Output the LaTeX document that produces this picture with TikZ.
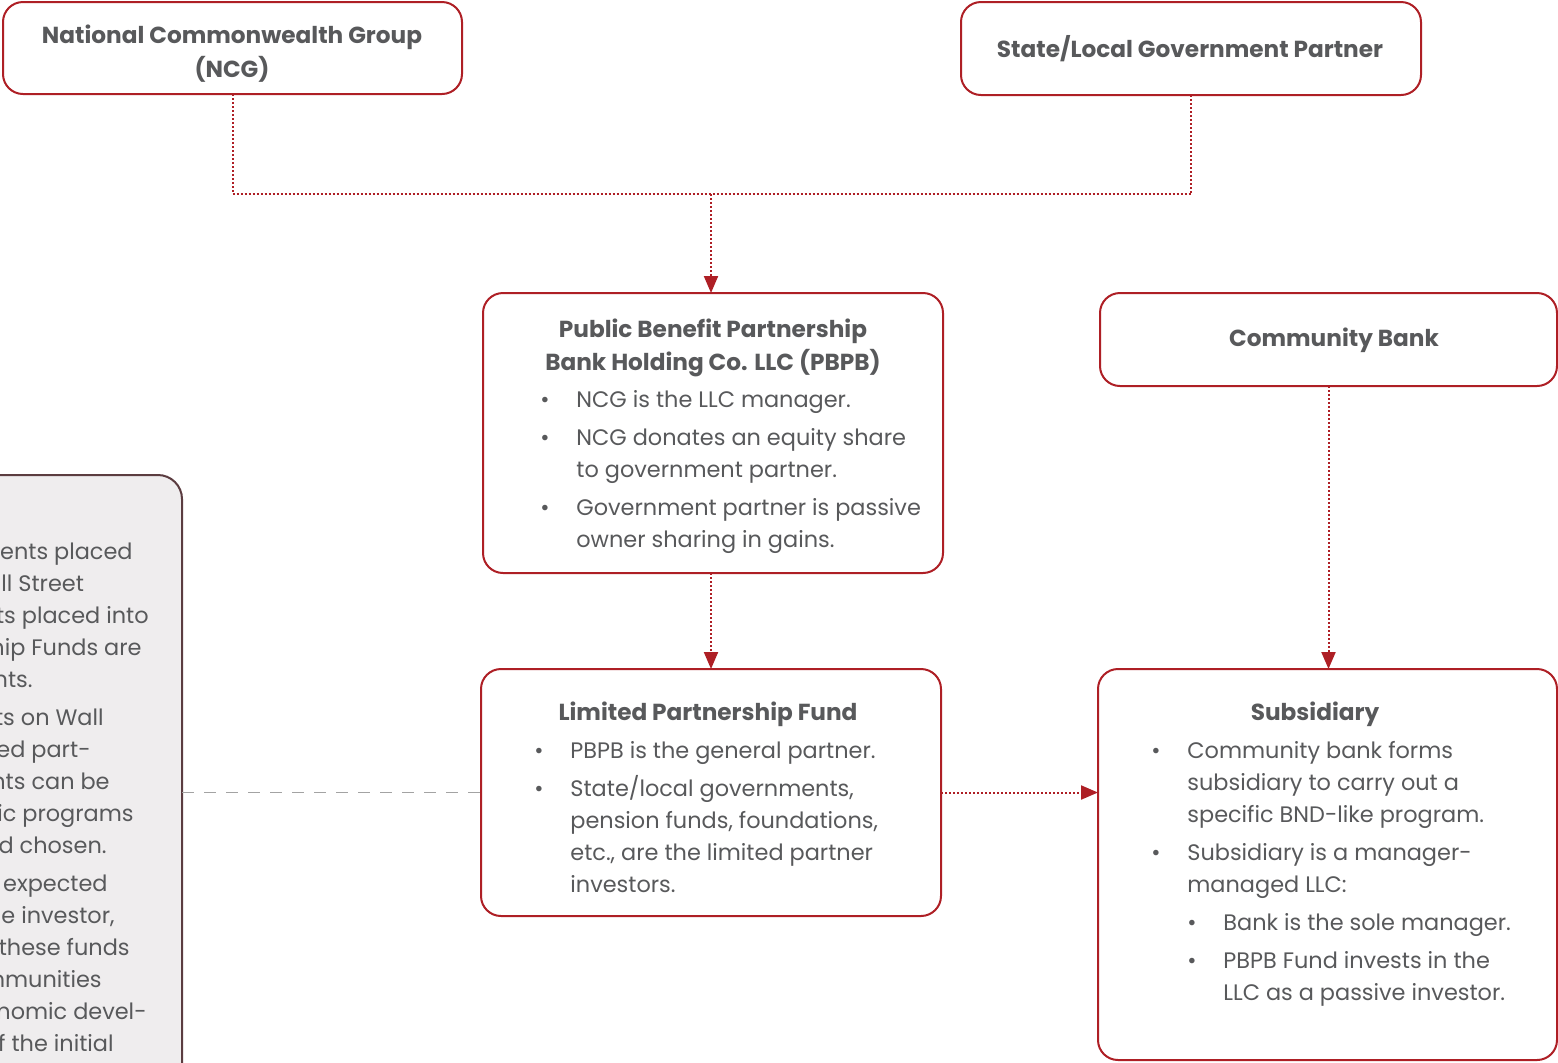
\documentclass[tikz,border=0pt]{standalone}
\usepackage{fontspec}
\setmainfont{Poppins}
\usetikzlibrary{arrows.meta}
\definecolor{bred}{HTML}{AE1F25}
\definecolor{tgray}{HTML}{58595B}
\definecolor{gfill}{HTML}{EFEDEE}
\definecolor{gedge}{HTML}{5B3C40}
\definecolor{dgray}{HTML}{A3A3A3}
\tikzset{
  box/.style={draw=bred, line width=1pt, rounded corners=10pt, fill=white, inner sep=0pt, outer sep=0pt},
  graybox/.style={draw=gedge, line width=1pt, rounded corners=12pt, fill=gfill, inner sep=0pt, outer sep=0pt},
  txt/.style={font=\fontsize{11.2}{16}\selectfont, text=tgray, inner sep=0pt, yshift=-1.5pt},
  ttl/.style={font=\fontsize{11.6}{16}\selectfont\bfseries, text=tgray, inner sep=0pt, yshift=-1pt},
  dotline/.style={draw=bred, line width=1pt, dash pattern=on 1pt off 1pt},
  darrow/.style={dotline, -{Triangle[length=8.5pt,width=7pt]}},
  gdash/.style={draw=dgray, line width=0.8pt, dash pattern=on 6pt off 5pt},
}
\begin{document}
\begin{tikzpicture}[x=0.5pt,y=-0.5pt]
\useasboundingbox (0,0) rectangle (1558,1062);
\begin{scope}
\clip (0,0) rectangle (1558,1062);
% boxes
\node[graybox, minimum width=116pt, minimum height=337.5pt] (gray) at (66,812.5) {};
\node[box, minimum width=229.5pt, minimum height=46pt] (ncg) at (232.5,48) {};
\node[box, minimum width=230pt, minimum height=46.5pt] (state) at (1191,48.5) {};
\node[box, minimum width=230pt, minimum height=140pt] (pbpb) at (713,433) {};
\node[box, minimum width=228.5pt, minimum height=46.5pt] (cb) at (1328.5,339.5) {};
\node[box, minimum width=230pt, minimum height=123.5pt] (lp) at (711,792.5) {};
\node[box, minimum width=229.5pt, minimum height=195.5pt] (sub) at (1327.5,864.5) {};
% connectors
\coordinate (j) at (711,194);
\draw[dotline] (ncg.south) |- (j) -| (state.south);
\draw[darrow] (j) -- (j |- pbpb.north);
\draw[darrow] (pbpb.south -| j) -- (lp.north -| j);
\draw[darrow] (cb.south) -- (cb.south |- sub.north);
\draw[darrow] (lp.east) -- (lp.east -| sub.west);
\draw[gdash] (gray.east |- lp.west) -- (lp.west);
% titles
\node[ttl] (t1) at (232,35) {National Commonwealth Group};
\node[ttl] (t2) at (232,67) {(NCG)};
\node[ttl] (t3) at (1190,47) {State/Local Government Partner};
\node[ttl] (t4) at (713,329) {Public Benefit Partnership};
\node[ttl] (t5) at (713,361) {Bank Holding Co. LLC (PBPB)};
\node[ttl] (t6) at (1334,338) {Community Bank};
\node[ttl] (t7) at (708,712) {Limited Partnership Fund};
\node[ttl] (t8) at (1315,712) {Subsidiary};
% PBPB bullets
\foreach \y in {399,437,507} \node[txt, anchor=mid] at (545,\y) {•};
\node[txt, anchor=mid west] (p1) at (576,399) {NCG is the LLC manager.};
\node[txt, anchor=mid west] (p2) at (576,437) {NCG donates an equity share};
\node[txt, anchor=mid west] (p3) at (576,469) {to government partner.};
\node[txt, anchor=mid west] (p4) at (576,507) {Government partner is passive};
\node[txt, anchor=mid west] (p5) at (576,539) {owner sharing in gains.};
% LP bullets
\foreach \y in {750,788} \node[txt, anchor=mid] at (539,\y) {•};
\node[txt, anchor=mid west] (l1) at (570,750) {PBPB is the general partner.};
\node[txt, anchor=mid west] (l2) at (570,788) {State/local governments,};
\node[txt, anchor=mid west] (l3) at (570,820) {pension funds, foundations,};
\node[txt, anchor=mid west] (l4) at (570,852) {etc., are the limited partner};
\node[txt, anchor=mid west] (l5) at (570,884) {investors.};
% Subsidiary bullets
\foreach \y in {750,852} \node[txt, anchor=mid] at (1156,\y) {•};
\foreach \y in {922,960} \node[txt, anchor=mid] at (1192,\y) {•};
\node[txt, anchor=mid west] (s1) at (1187,750) {Community bank forms};
\node[txt, anchor=mid west] (s2) at (1187,782) {subsidiary to carry out a};
\node[txt, anchor=mid west] (s3) at (1187,814) {specific BND-like program.};
\node[txt, anchor=mid west] (s4) at (1187,852) {Subsidiary is a manager-};
\node[txt, anchor=mid west] (s5) at (1187,884) {managed LLC:};
\node[txt, anchor=mid west] (s6) at (1223,922) {Bank is the sole manager.};
\node[txt, anchor=mid west] (s7) at (1223,960) {PBPB Fund invests in the};
\node[txt, anchor=mid west] (s8) at (1223,992) {LLC as a passive investor.};
% left panel text (cut by the picture edge)
\begin{scope}
\clip (0,476) rectangle (181,1062);
\node[txt, anchor=mid east] at (133,551) {ments placed};
\node[txt, anchor=mid west] at (1,583) {ll Street};
\node[txt, anchor=mid east] at (149,615) {ts placed into};
\node[txt, anchor=mid east] at (142,647) {hip Funds are};
\node[txt, anchor=mid east] at (33,679) {nts.};
\node[txt, anchor=mid east] at (104,717) {ts on Wall};
\node[txt, anchor=mid east] at (91,749) {ed part-};
\node[txt, anchor=mid east] at (110,781) {nts can be};
\node[txt, anchor=mid east] at (134,813) {fic programs};
\node[txt, anchor=mid east] at (107,845) {d chosen.};
\node[txt, anchor=mid east] at (108,883) {expected};
\node[txt, anchor=mid east] at (115,915) {he investor,};
\node[txt, anchor=mid east] at (130,947) {these funds};
\node[txt, anchor=mid east] at (102,979) {mmunities};
\node[txt, anchor=mid east] at (147,1011) {onomic devel-};
\node[txt, anchor=mid east] at (114,1043) {f the initial};
\end{scope}
\end{scope}
\end{tikzpicture}
\end{document}
